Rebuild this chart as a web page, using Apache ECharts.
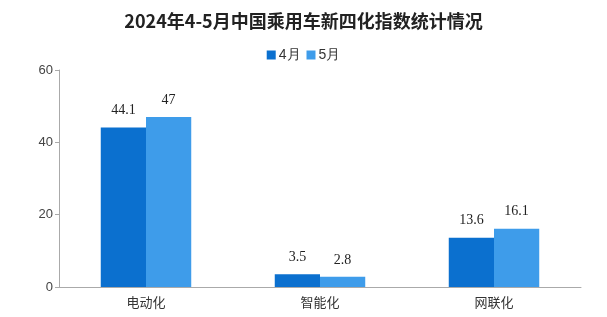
<!DOCTYPE html>
<html><head><meta charset="utf-8">
<script src="https://cdn.jsdelivr.net/npm/echarts@6/dist/echarts.min.js"></script>
<style>html,body{margin:0;padding:0;background:#fff}#c{width:607px;height:317px}</style>
</head><body><div id="c"></div>
<script>
const categories = ['电动化', '智能化', '网联化'];
const seriesNames = ['4月', '5月'];
const april = [44.1, 3.5, 13.6];
const may = [47, 2.8, 16.1];
const yTicks = [0, 20, 40, 60];

const chart = echarts.init(document.getElementById('c'));
const labelStyle = {show: true, position: 'top', distance: 10, fontFamily: 'Liberation Serif, serif', fontSize: 14, color: '#222'};
chart.setOption({
  animation: false,
  title: {text: '2024年4-5月中国乘用车新四化指数统计情况', left: 'center', top: 7,
    textStyle: {fontFamily: 'Noto Sans CJK SC', fontWeight: 'bold', fontSize: 18, color: '#222'}},
  legend: {top: 43, left: 'center', itemWidth: 9, itemHeight: 9, itemGap: 6, icon: 'rect',
    textStyle: {fontSize: 14, color: '#333', padding: [0,0,0,-2]}, data: seriesNames},
  grid: {left: 59, right: 26, top: 70, bottom: 30},
  xAxis: {type: 'category', data: categories,
    axisLine: {lineStyle: {color: '#aaa'}}, axisTick: {lineStyle: {color: '#aaa'}, length: 5},
    axisLabel: {fontSize: 13, color: '#333', margin: 9, fontFamily: 'Noto Sans CJK SC'}},
  yAxis: {type: 'value', min: yTicks[0], max: yTicks[yTicks.length-1], interval: 20,
    axisLine: {show: true, lineStyle: {color: '#aaa'}}, axisTick: {show: true, lineStyle: {color: '#aaa'}, length: 4},
    splitLine: {show: false}, axisLabel: {fontSize: 13, color: '#444', margin: 6}},
  series: [
    {name: seriesNames[0], type: 'bar', data: april, barGap: '0%', barCategoryGap: '48%',
      itemStyle: {color: '#0b70cf'}, label: labelStyle},
    {name: seriesNames[1], type: 'bar', data: may, barGap: '0%', barCategoryGap: '48%',
      itemStyle: {color: '#3e9cea'}, label: labelStyle}
  ]
});
</script></body></html>
